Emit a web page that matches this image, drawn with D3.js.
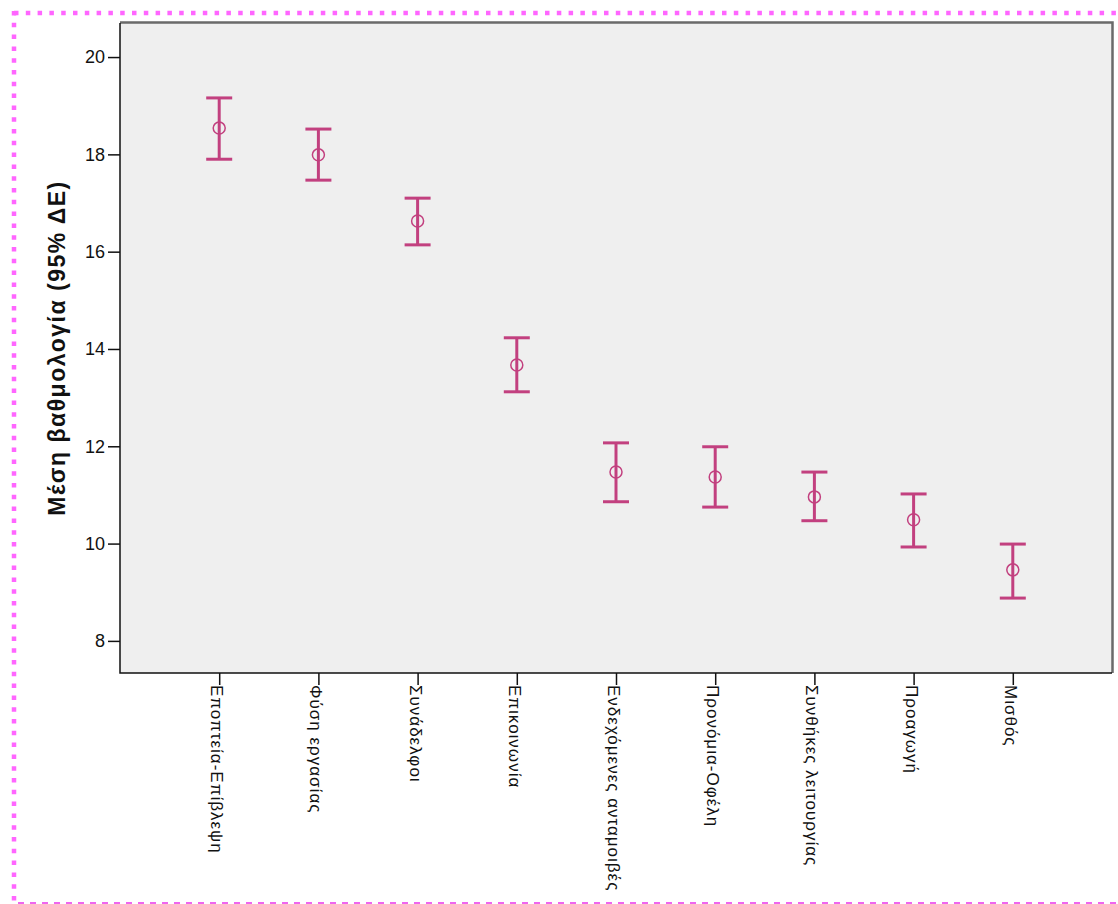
<!DOCTYPE html>
<html>
<head>
<meta charset="utf-8">
<script src="https://cdn.jsdelivr.net/npm/d3@7"></script>
<style>
  html, body { margin: 0; padding: 0; background: #ffffff; }
  svg { display: block; }
</style>
</head>
<body>
<svg id="chart" width="1118" height="904"></svg>
<script>
// Mean score per job-satisfaction dimension with 95% confidence interval
const categories = [
  "Εποπτεία-Επίβλεψη",
  "Φύση εργασίας",
  "Συνάδελφοι",
  "Επικοινωνία",
  "Ενδεχόμενες ανταμοιβές",
  "Προνόμια-Οφέλη",
  "Συνθήκες λειτουργίας",
  "Προαγωγή",
  "Μισθός"
];
const means = [18.54, 17.99, 16.63, 13.67, 11.47, 11.37, 10.96, 10.49, 9.46];
const lowerCI = [17.90, 17.47, 16.14, 13.12, 10.86, 10.75, 10.47, 9.93, 8.88];
const upperCI = [19.16, 18.52, 17.10, 14.23, 12.07, 11.99, 11.47, 11.02, 9.99];
const yTicks = [8, 10, 12, 14, 16, 18, 20];
const yTitle = "Μέση βαθμολογία (95% ΔΕ)";

const svg = d3.select("#chart");
const W = 1118, H = 904;
const plot = { left: 120, top: 23, right: 1112, bottom: 673 };
const barColor = "#c2407f";

// Outer dotted frame
svg.append("line")
  .attr("x1", 14).attr("x2", W).attr("y1", 13).attr("y2", 13)
  .attr("stroke", "#ff66ff").attr("stroke-width", 4.5)
  .attr("stroke-dasharray", "4.5,7.3");
svg.append("line")
  .attr("x1", 14).attr("x2", 14).attr("y1", 11).attr("y2", H)
  .attr("stroke", "#ff66ff").attr("stroke-width", 4.5)
  .attr("stroke-dasharray", "4.5,7.3");
svg.append("line")
  .attr("x1", 18).attr("x2", W).attr("y1", 903).attr("y2", 903)
  .attr("stroke", "#ee66ee").attr("stroke-width", 2)
  .attr("stroke-dasharray", "6,6");

// Scales
const x = d3.scalePoint()
  .domain(categories)
  .range([plot.left, plot.right])
  .padding(1);
const y = d3.scaleLinear()
  .domain([7.34, 20.7])
  .range([plot.bottom, plot.top]);

// Plot background and frame
svg.append("rect")
  .attr("x", plot.left).attr("y", plot.top)
  .attr("width", plot.right - plot.left).attr("height", plot.bottom - plot.top)
  .attr("fill", "#efefef");
svg.append("path")
  .attr("d", `M${plot.left},${plot.top - 0.5}H${plot.right + 0.5}V${plot.bottom}`)
  .attr("fill", "none").attr("stroke", "#6a6a6a").attr("stroke-width", 2.5);
svg.append("path")
  .attr("d", `M${plot.left},${plot.top}V${plot.bottom}H${plot.right}`)
  .attr("fill", "none").attr("stroke", "#111").attr("stroke-width", 1.5);

// Y axis
const yAxis = d3.axisLeft(y).tickValues(yTicks).tickSize(12).tickPadding(3).tickFormat(d3.format("d"));
const gy = svg.append("g").attr("transform", `translate(${plot.left},0)`).call(yAxis);
gy.select(".domain").remove();
gy.selectAll(".tick line").attr("stroke", "#111").attr("stroke-width", 1.5);
gy.selectAll(".tick text")
  .attr("font-family", "'Liberation Sans', Arial, sans-serif")
  .attr("font-size", 18).attr("fill", "#111");

// X axis with vertical labels
const xAxis = d3.axisBottom(x).tickSize(12).tickSizeOuter(0);
const gx = svg.append("g").attr("transform", `translate(0,${plot.bottom})`).call(xAxis);
gx.select(".domain").remove();
gx.selectAll(".tick line").attr("stroke", "#111").attr("stroke-width", 1.5);
gx.selectAll(".tick text")
  .attr("font-family", "'Liberation Sans', Arial, sans-serif")
  .attr("font-size", 17).attr("fill", "#111")
  .attr("letter-spacing", 1.0)
  .attr("transform", "rotate(90)")
  .attr("x", 12).attr("y", 0).attr("dy", "0.5em")
  .attr("text-anchor", "start");

// Y axis title
svg.append("text")
  .attr("transform", `translate(57,${(plot.top + plot.bottom) / 2}) rotate(-90)`)
  .attr("text-anchor", "middle")
  .attr("dy", "0.35em")
  .attr("font-family", "'Liberation Sans', Arial, sans-serif")
  .attr("font-weight", "bold").attr("font-size", 23).attr("fill", "#111")
  .attr("letter-spacing", 1.5)
  .text(yTitle);

// Error bars
const rows = categories.map((c, i) => ({ c, m: means[i], lo: lowerCI[i], hi: upperCI[i] }));
const capHalf = 13;
const g = svg.append("g");
const bars = g.selectAll("g.bar").data(rows).join("g").attr("class", "bar");
bars.append("line")
  .attr("x1", d => x(d.c)).attr("x2", d => x(d.c))
  .attr("y1", d => y(d.hi)).attr("y2", d => y(d.lo))
  .attr("stroke", barColor).attr("stroke-width", 3);
bars.append("line")
  .attr("x1", d => x(d.c) - capHalf).attr("x2", d => x(d.c) + capHalf)
  .attr("y1", d => y(d.hi)).attr("y2", d => y(d.hi))
  .attr("stroke", barColor).attr("stroke-width", 3);
bars.append("line")
  .attr("x1", d => x(d.c) - capHalf).attr("x2", d => x(d.c) + capHalf)
  .attr("y1", d => y(d.lo)).attr("y2", d => y(d.lo))
  .attr("stroke", barColor).attr("stroke-width", 3);
bars.append("circle")
  .attr("cx", d => x(d.c)).attr("cy", d => y(d.m)).attr("r", 6)
  .attr("fill", "none").attr("stroke", barColor).attr("stroke-width", 1.5);
</script>
</body>
</html>
